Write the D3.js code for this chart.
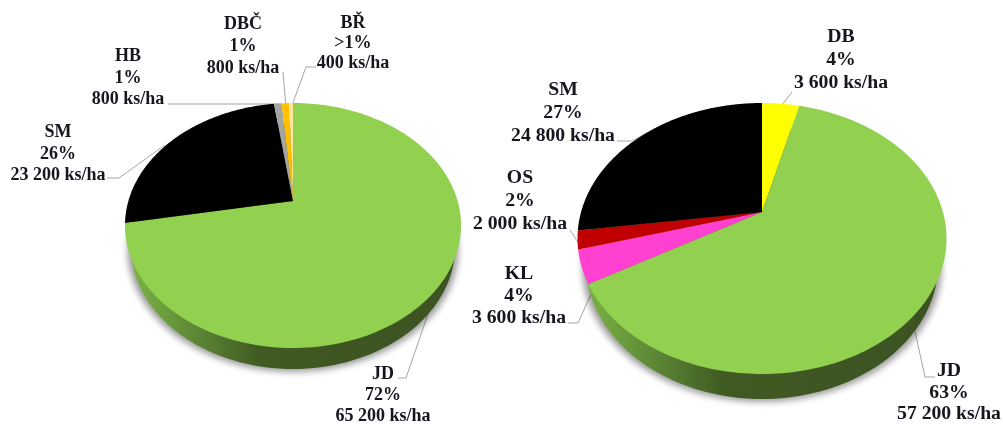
<!DOCTYPE html>
<html><head><meta charset="utf-8">
<script src="https://cdn.jsdelivr.net/npm/d3@7"></script>
<style>html,body{margin:0;padding:0;background:#fff}svg{display:block}</style>
</head><body>
<svg id="c" width="1003" height="424"></svg>
<script>
// Left pie
const leftNames = ["JD","SM","HB","DBČ","BŘ"];
const leftValues = [65200,23200,800,800,400];
const leftPercents = ["72%","26%","1%","1%",">1%"];
const leftAmounts = ["65 200 ks/ha","23 200 ks/ha","800 ks/ha","800 ks/ha","400 ks/ha"];
const leftColors = ["#92d050","#000000","#a5a5a5","#ffc000","#ffe699"];
const leftLabelPos = [[383,373,21],[58,131,21.5],[128,55,21.5],[243,23,22],[353,22,20]];
const leftLeaders = [
  [[398,378],[406,378],[430,308]],
  [[107,178],[119,178],[165,145]],
  [[168,104],[280,104]],
  [[283,72],[286,108]],
  [[316,67],[306,67],[291,108]]
];
// Right pie
const rightNames = ["DB","JD","KL","OS","SM"];
const rightValues = [3600,57200,3600,2000,24800];
const rightPercents = ["4%","63%","4%","2%","27%"];
const rightAmounts = ["3 600 ks/ha","57 200 ks/ha","3 600 ks/ha","2 000 ks/ha","24 800 ks/ha"];
const rightColors = ["#ffff00","#92d050","#ff40d0","#c00000","#000000"];
const rightLabelPos = [[841,36,23],[949,370,21.5],[519,273,22],[520,177,23],[563,89,23]];
const rightLeaders = [
  [[792,92],[778,110]],
  [[935,377],[925,377],[914,327]],
  [[568,323],[578,323],[592,292]],
  [[570,230],[581,247]],
  [[617,141],[632,141],[645,134]]
];
// Shape of each tilted disc: apex, half width, offsets to rim, wall depth, taper of lower rim, label size
const leftGeom = {cx:293, cy:201, rx:168, up:98, down:147, depth:21, taper:0.965, id:"gl", font:18};
const rightGeom = {cx:762, cy:212, rx:184.5, up:109, down:162, depth:25, taper:0.955, id:"gr", font:19.7};

const svg = d3.select("#c");
const defs = svg.append("defs");
defs.append("filter").attr("id","soft").attr("x","-5%").attr("y","-5%").attr("width","110%").attr("height","110%")
  .append("feGaussianBlur").attr("stdDeviation",0.5);
const sh = defs.append("filter").attr("id","shadow").attr("x","-10%").attr("y","-10%").attr("width","120%").attr("height","120%");
sh.append("feGaussianBlur").attr("stdDeviation",3);

const root = svg.append("g").attr("filter","url(#soft)");

function drawPie(g, names, values, percents, amounts, colors, labelPos, leaders){
  const k = (g.down-g.up)/(g.down+g.up);
  const b = g.down*(1-k);
  const a = g.rx*Math.sqrt(1-k*k);
  // projective map of the unit disc onto the tilted ellipse
  const proj = (t,dy=0,s=1)=>{
    const x=Math.sin(t), y=-Math.cos(t), w=1-k*y;
    return [g.cx+s*a*x/w, g.cy+b*y/w+dy];
  };
  const line = d3.line();
  const sample = (t0,t1,dy=0,s=1)=>d3.range(0,181).map(i=>proj(t0+(t1-t0)*i/180,dy,s));
  const full = 2*Math.PI;

  const grad = defs.append("linearGradient").attr("id",g.id).attr("gradientUnits","userSpaceOnUse")
    .attr("x1",g.cx-g.rx).attr("x2",g.cx+g.rx).attr("y1",0).attr("y2",0);
  [[0,"#7fb548"],[0.12,"#6b9c3c"],[0.28,"#527630"],[0.4,"#405a22"],[1,"#3b5220"]]
    .forEach(s=>grad.append("stop").attr("offset",s[0]).attr("stop-color",s[1]));

  // leader lines run under the disc
  root.selectAll(null).data(leaders).enter().append("path")
    .attr("d",d=>line(d)).attr("fill","none").attr("stroke","#a6a6a6").attr("stroke-width",1);

  // soft shadow below the lower rim
  root.append("path").attr("d",line(sample(0,full,g.depth+3,g.taper+0.02))+"Z")
    .attr("fill","#000").attr("fill-opacity",0.38).attr("filter","url(#shadow)");
  // wall: lower rim under the top face
  root.append("path").attr("d",line(sample(0,full,g.depth,g.taper))+"Z").attr("fill",`url(#${g.id})`);

  const arcs = d3.pie().sort(null).value(d=>d)(values);
  root.selectAll(null).data(arcs).enter().append("path")
    .attr("d",d=>line([[g.cx,g.cy]].concat(sample(d.startAngle,d.endAngle)))+"Z")
    .attr("fill",(d,i)=>colors[i]);

  names.forEach((n,i)=>{
    const [x,y,dy]=labelPos[i];
    const t=root.append("text").attr("text-anchor","middle")
      .attr("font-family","'Liberation Serif',serif").attr("font-weight","bold")
      .attr("font-size",g.font).attr("fill","#14141e");
    [n,percents[i],amounts[i]].forEach((s,j)=>{
      t.append("tspan").attr("x",x).attr("y",y+6+j*dy).text(s);
    });
  });
}
drawPie(leftGeom,leftNames,leftValues,leftPercents,leftAmounts,leftColors,leftLabelPos,leftLeaders);
drawPie(rightGeom,rightNames,rightValues,rightPercents,rightAmounts,rightColors,rightLabelPos,rightLeaders);
</script>
</body></html>
